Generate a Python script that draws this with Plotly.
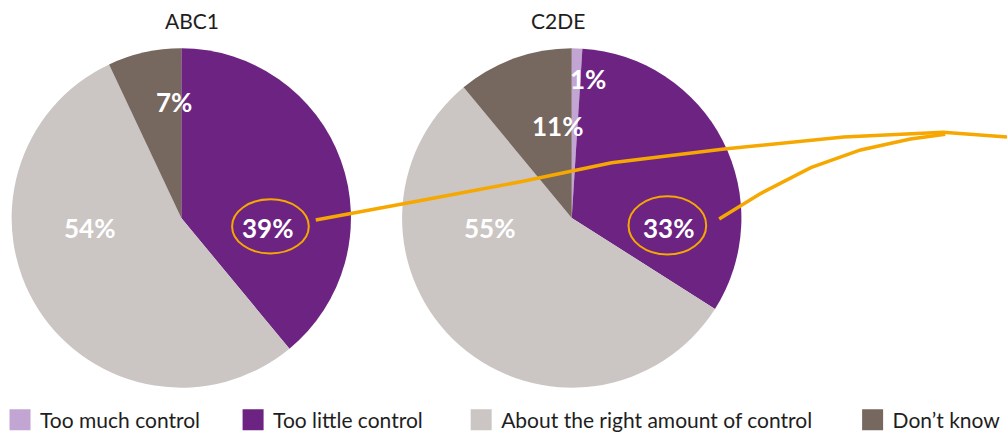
import plotly.graph_objects as go

# ---- data ----
categories = ["Too much control", "Too little control",
              "About the right amount of control", "Don’t know"]
abc1_values = [0, 39, 54, 7]
c2de_values = [1, 33, 55, 11]
group_titles = ["ABC1", "C2DE"]

colors = ["#C2A5D3", "#6C2382", "#CBC6C3", "#76675F"]

W, H = 1007, 441
FONT = "Lato"
ORANGE = "#F6A800"


def px(x):
    return x / W


def py(y):
    return 1 - y / H


fig = go.Figure()

# two pies, clockwise from 12 o'clock
pie_domains = [
    dict(x=[px(6), px(350)], y=[py(393), py(49)]),
    dict(x=[px(398), px(742)], y=[py(393), py(49)]),
]
for vals, dom, name in zip([abc1_values, c2de_values], pie_domains, group_titles):
    fig.add_trace(go.Pie(
        labels=categories, values=vals, name=name,
        marker=dict(colors=colors, line=dict(width=0)),
        sort=False, direction="clockwise", rotation=0,
        textinfo="none", hoverinfo="label+percent",
        showlegend=False, domain=dom,
    ))

# percentage labels placed on the slices
label_pos = {
    0: {1: (265, 231), 2: (86, 231), 3: (171, 103)},
    1: {0: (586, 80), 1: (667, 231), 2: (487, 231), 3: (556, 128)},
}
annotations = []
for gi, vals in enumerate([abc1_values, c2de_values]):
    for ci, (x, y) in label_pos[gi].items():
        annotations.append(dict(
            x=px(x), y=py(y), xref="paper", yref="paper",
            text=f"{vals[ci]}%", showarrow=False,
            xanchor="center", yanchor="middle",
            font=dict(family=FONT, size=26, color="white", weight="bold"),
        ))

# group titles
for title, cx in zip(group_titles, [189, 556]):
    annotations.append(dict(
        x=px(cx), y=py(21), xref="paper", yref="paper", text=title,
        showarrow=False, xanchor="center", yanchor="middle",
        font=dict(family=FONT, size=21, color="#1E1E1E"),
    ))

# legend entries, one legend box each so they sit spread along the bottom
legend_text_x = [38, 272, 501, 894]
for i, (cat, col) in enumerate(zip(categories, colors)):
    lname = "legend" if i == 0 else f"legend{i + 1}"
    fig.add_trace(go.Scatter(
        x=[None], y=[None], mode="markers", name=cat,
        marker=dict(symbol="square", size=16, color=col,
                    line=dict(width=6, color=col)),
        legend=lname, showlegend=True, hoverinfo="skip",
    ))

legend_common = dict(
    orientation="h", yanchor="middle", xanchor="left",
    bgcolor="rgba(0,0,0,0)", borderwidth=0,
    font=dict(family=FONT, size=21, color="#1E1E1E"),
    itemclick=False, itemdoubleclick=False,
)
legends = {}
for i, tx in enumerate(legend_text_x):
    key = "legend" if i == 0 else f"legend{i + 1}"
    legends[key] = dict(legend_common, x=px(tx - 42), y=py(426))


def path_from(points):
    return "M " + " L ".join(f"{px(x):.5f},{py(y):.5f}" for x, y in points)


shapes = []
# hand-drawn style callouts
shapes.append(dict(type="circle", xref="paper", yref="paper",
                   x0=px(229), x1=px(306), y0=py(257), y1=py(202),
                   line=dict(color=ORANGE, width=2)))
shapes.append(dict(type="circle", xref="paper", yref="paper",
                   x0=px(627), x1=px(705), y0=py(258), y1=py(199),
                   line=dict(color=ORANGE, width=2)))
line_a = [(313, 223), (420, 203), (520, 184), (610, 165), (723, 151),
          (843, 139), (943, 134), (1007, 139)]
line_b = [(718, 222), (760, 196), (810, 170), (860, 152), (910, 141), (945, 136)]
for pts in (line_a, line_b):
    shapes.append(dict(type="path", xref="paper", yref="paper",
                       path=path_from(pts),
                       line=dict(color=ORANGE, width=3.5)))

fig.update_layout(
    width=W, height=H,
    margin=dict(l=0, r=0, t=0, b=0),
    paper_bgcolor="white", plot_bgcolor="white",
    xaxis=dict(visible=False), yaxis=dict(visible=False),
    annotations=annotations, shapes=shapes,
    **legends,
)

fig.write_html("out.html")
